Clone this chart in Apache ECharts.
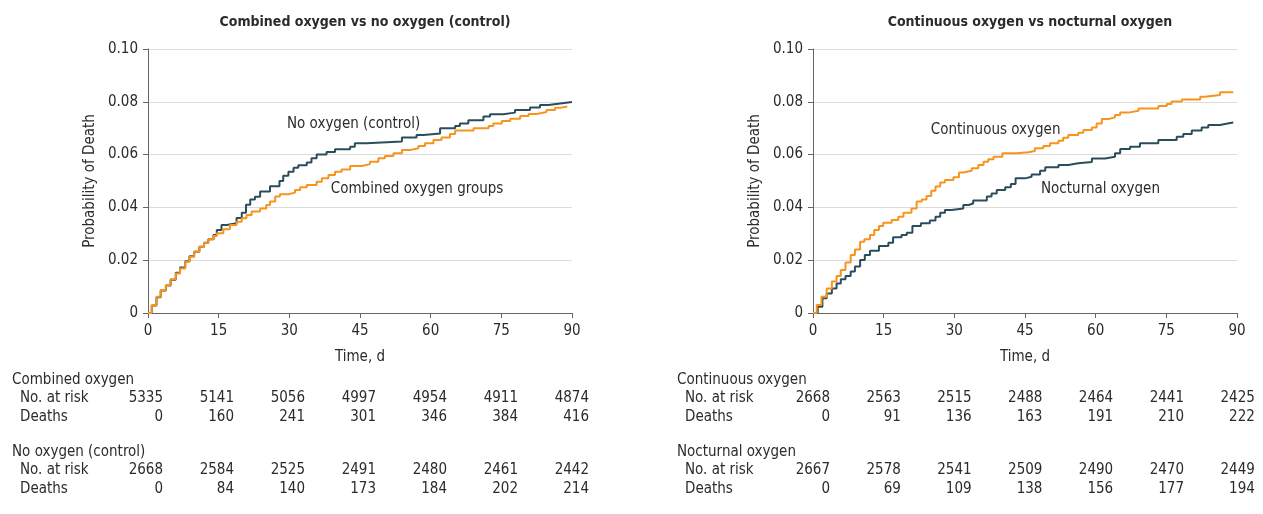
<!DOCTYPE html>
<html>
<head>
<meta charset="utf-8">
<script src="https://cdn.jsdelivr.net/npm/echarts@6/dist/echarts.min.js"></script>
<style>
html,body{margin:0;padding:0;background:#fff;}
#chart{width:1263px;height:514px;}
</style>
</head>
<body>
<div id="chart"></div>
<script>
// ---------- DATA ----------
const xTicks = [0, 15, 30, 45, 60, 75, 90];
const panelTitles = ['Combined oxygen vs no oxygen (control)', 'Continuous oxygen vs nocturnal oxygen'];

// Left panel: [day, probability]
const controlCurve = [[0,0],[0.8,0.0028],[1.8,0.006],[2.7,0.0085],[3.8,0.0104],[4.8,0.0126],[5.9,0.0152],[6.8,0.0172],[7.9,0.0196],[8.8,0.0215],[9.8,0.0232],[10.9,0.0251],[11.9,0.0266],[12.8,0.0279],[13.9,0.0295],[14.6,0.0314],[15.6,0.0333],[16.7,0.034],[18.8,0.036],[19.9,0.038],[20.8,0.041],[21.7,0.043],[22.7,0.044],[23.8,0.046],[25.9,0.048],[27.9,0.050],[28.7,0.052],[29.8,0.0535],[30.9,0.055],[31.9,0.056],[33.7,0.057],[34.7,0.0586],[35.8,0.060],[37.9,0.061],[39.7,0.062],[42.9,0.063],[43.9,0.0643],[46.4,0.065],[53.9,0.0665],[57.0,0.0674],[58.5,0.068],[62.0,0.070],[65.2,0.0708],[66.2,0.0718],[68.0,0.073],[71.2,0.0744],[72.6,0.0753],[75.4,0.0759],[77.9,0.0769],[81.1,0.0778],[83.2,0.0788],[85.0,0.0794],[87.5,0.0799],[90,0.0799]];
const combinedCurve = [[0,0],[0.8,0.003],[1.8,0.0062],[2.7,0.0087],[3.8,0.0106],[4.8,0.0128],[5.9,0.015],[6.8,0.0169],[7.9,0.0194],[8.8,0.0213],[9.8,0.0232],[10.9,0.0251],[11.9,0.0266],[12.8,0.0279],[13.9,0.0292],[14.6,0.0302],[16.0,0.0317],[17.4,0.0333],[18.8,0.0346],[19.9,0.0359],[20.9,0.0371],[22.0,0.0384],[23.8,0.0396],[25.1,0.0409],[25.9,0.0422],[27.0,0.0441],[28.0,0.045],[29.8,0.0456],[31.2,0.0466],[32.3,0.0476],[33.7,0.0485],[35.8,0.0497],[36.9,0.051],[38.3,0.0523],[39.7,0.0535],[41.1,0.0544],[42.9,0.0557],[45.4,0.0564],[47.1,0.0573],[48.9,0.0586],[50.3,0.0595],[52.1,0.0605],[53.9,0.0617],[55.6,0.0624],[57.4,0.0633],[58.8,0.0643],[60.6,0.0655],[62.3,0.0665],[64.1,0.0678],[65.2,0.0691],[69.1,0.070],[72.3,0.0708],[73.3,0.0718],[75.1,0.0727],[76.9,0.0736],[79.0,0.0746],[80.8,0.0754],[82.5,0.0761],[84.6,0.0769],[86.4,0.0777],[87.5,0.0782],[89.0,0.0782]];

// Right panel
const nocturnalCurve = [[0,0],[1.0,0.0024],[2.0,0.0056],[2.9,0.0074],[4.0,0.0093],[5.0,0.0112],[5.9,0.0128],[6.9,0.014],[8.0,0.0157],[8.9,0.0176],[10.0,0.0201],[11.0,0.022],[12.1,0.0236],[14.0,0.0254],[16.0,0.0266],[17.0,0.0287],[18.8,0.0295],[19.9,0.0304],[21.1,0.033],[22.9,0.034],[24.8,0.035],[26.0,0.0365],[27.0,0.038],[28.0,0.039],[29.4,0.0396],[31.9,0.0409],[33.0,0.0415],[34.0,0.0426],[36.9,0.0441],[37.9,0.0453],[39.0,0.0466],[40.8,0.0476],[42.0,0.0489],[43.0,0.051],[45.0,0.0516],[46.4,0.0525],[48.2,0.0539],[49.3,0.0552],[52.1,0.0561],[54.2,0.0567],[56.3,0.0572],[59.2,0.0585],[62.0,0.0592],[64.1,0.0605],[65.2,0.0621],[67.3,0.063],[69.4,0.0643],[73.3,0.0655],[77.2,0.0668],[78.6,0.0678],[80.4,0.0691],[82.5,0.0703],[83.9,0.0712],[86.4,0.0718],[88.0,0.0722],[89.2,0.0722]];
const continuousCurve = [[0,0],[0.8,0.003],[1.8,0.0062],[2.9,0.0093],[4.0,0.0119],[5.0,0.014],[5.9,0.0163],[6.9,0.0191],[8.0,0.022],[8.9,0.0241],[10.0,0.027],[10.9,0.0279],[12.1,0.0295],[13.0,0.0314],[14.0,0.033],[14.9,0.0342],[16.7,0.0352],[18.1,0.0365],[19.2,0.038],[20.9,0.0396],[22.0,0.0422],[23.1,0.043],[24.1,0.0443],[25.1,0.0463],[26.0,0.0479],[27.0,0.0494],[28.0,0.0504],[29.8,0.0514],[31.0,0.0532],[31.9,0.0539],[33.7,0.0548],[35.1,0.0561],[36.2,0.0573],[37.2,0.0582],[38.3,0.0592],[40.2,0.0605],[43.2,0.0609],[45.7,0.0614],[47.1,0.0624],[48.9,0.0633],[50.3,0.0643],[52.1,0.0652],[53.1,0.0664],[54.2,0.0674],[56.3,0.0683],[57.4,0.0693],[59.2,0.0703],[60.2,0.0718],[61.3,0.0735],[62.7,0.0741],[64.1,0.075],[65.2,0.0759],[67.0,0.0766],[69.1,0.0775],[73.3,0.0784],[75.1,0.0792],[76.1,0.0801],[78.3,0.0809],[82.2,0.0819],[83.2,0.0826],[86.4,0.0836],[89.2,0.0836]];

// Risk tables
const combinedAtRisk = [5335, 5141, 5056, 4997, 4954, 4911, 4874];
const combinedDeaths = [0, 160, 241, 301, 346, 384, 416];
const controlAtRisk = [2668, 2584, 2525, 2491, 2480, 2461, 2442];
const controlDeaths = [0, 84, 140, 173, 184, 202, 214];
const continuousAtRisk = [2668, 2563, 2515, 2488, 2464, 2441, 2425];
const continuousDeaths = [0, 91, 136, 163, 191, 210, 222];
const nocturnalAtRisk = [2667, 2578, 2541, 2509, 2490, 2470, 2449];
const nocturnalDeaths = [0, 69, 109, 138, 156, 177, 194];

// ---------- STYLE / LAYOUT ----------
const FONT = "'Liberation Sans Narrow', 'DejaVu Sans Condensed', 'Roboto Condensed', sans-serif";
const TEXT = '#2b2b2b';
const ORANGE = '#f7941d';
const TEAL = '#2b4d5b';
const grids = [
  {left: 148, top: 49, width: 424, height: 264},
  {left: 813, top: 49, width: 424, height: 264}
];

function xAxisCfg(i) {
  return {
    gridIndex: i, type: 'value', min: 0, max: 90, interval: 15,
    name: 'Time, d', nameLocation: 'middle', nameGap: 37,
    nameTextStyle: {fontFamily: FONT, fontSize: 15, color: TEXT},
    axisLine: {lineStyle: {color: '#666', width: 1}},
    axisTick: {show: true, length: 5, lineStyle: {color: '#666'}},
    axisLabel: {fontFamily: FONT, fontSize: 15, color: TEXT, margin: 11},
    splitLine: {show: false}
  };
}
function yAxisCfg(i) {
  return {
    gridIndex: i, type: 'value', min: 0, max: 0.1, interval: 0.02,
    name: 'Probability of Death', nameLocation: 'middle', nameGap: 50,
    nameTextStyle: {fontFamily: FONT, fontSize: 15, color: TEXT},
    axisLine: {show: true, lineStyle: {color: '#666', width: 1}},
    axisTick: {show: true, length: 5, lineStyle: {color: '#666'}},
    axisLabel: {fontFamily: FONT, fontSize: 15, color: TEXT, margin: 10,
      formatter: v => v === 0 ? '0' : v.toFixed(2)},
    splitLine: {show: true, lineStyle: {color: '#dcdcdc', width: 1}}
  };
}
function curve(name, data, color, i, label) {
  return {
    name, type: 'line', step: 'end', data, xAxisIndex: i, yAxisIndex: i,
    symbol: 'none', lineStyle: {color, width: 2}, itemStyle: {color},
    animation: false, silent: true,
    markPoint: {
      symbol: 'circle', symbolSize: 0, silent: true,
      data: [{coord: label.coord, value: label.text}],
      label: {show: true, formatter: label.text, position: 'right', distance: 0,
        fontFamily: FONT, fontSize: 15, color: TEXT}
    }
  };
}

const series = [
  curve('No oxygen (control)', controlCurve, TEAL, 0, {text: 'No oxygen (control)', coord: [29.5, 0.0716]}),
  curve('Combined oxygen groups', combinedCurve, ORANGE, 0, {text: 'Combined oxygen groups', coord: [38.8, 0.047]}),
  curve('Nocturnal oxygen', nocturnalCurve, TEAL, 1, {text: 'Nocturnal oxygen', coord: [48.4, 0.047]}),
  curve('Continuous oxygen', continuousCurve, ORANGE, 1, {text: 'Continuous oxygen', coord: [25.0, 0.0693]})
];

// Risk table layout (text only)
const tables = [
  {labelX: 12, indent: 8, colRight: 163, colStep: 71,
   groups: [['Combined oxygen', combinedAtRisk, combinedDeaths], ['No oxygen (control)', controlAtRisk, controlDeaths]]},
  {labelX: 677, indent: 8, colRight: 830, colStep: 70.8,
   groups: [['Continuous oxygen', continuousAtRisk, continuousDeaths], ['Nocturnal oxygen', nocturnalAtRisk, nocturnalDeaths]]}
];
const groupTops = [380, 452];
const rowGap = 18.5;
const graphics = [];
function txt(x, y, text, align) {
  graphics.push({type: 'text', x, y, silent: true,
    style: {text, fill: TEXT, font: '15px ' + FONT, textAlign: align || 'left', textVerticalAlign: 'middle'}});
}
tables.forEach(t => {
  t.groups.forEach((g, gi) => {
    const y0 = groupTops[gi];
    txt(t.labelX, y0, g[0]);
    txt(t.labelX + t.indent, y0 + rowGap, 'No. at risk');
    txt(t.labelX + t.indent, y0 + rowGap * 2, 'Deaths');
    g[1].forEach((v, k) => txt(t.colRight + k * t.colStep, y0 + rowGap, String(v), 'right'));
    g[2].forEach((v, k) => txt(t.colRight + k * t.colStep, y0 + rowGap * 2, String(v), 'right'));
  });
});

const chart = echarts.init(document.getElementById('chart'), null, {renderer: 'canvas'});
chart.setOption({
  backgroundColor: '#fff',
  animation: false,
  title: panelTitles.map((t, i) => ({
    text: t, left: grids[i].left + grids[i].width / 2, top: 10, textAlign: 'center',
    textStyle: {fontFamily: FONT, fontSize: 14, fontWeight: 'bold', color: TEXT}
  })),
  grid: grids,
  xAxis: [xAxisCfg(0), xAxisCfg(1)],
  yAxis: [yAxisCfg(0), yAxisCfg(1)],
  series,
  graphic: graphics
});
</script>
</body>
</html>
